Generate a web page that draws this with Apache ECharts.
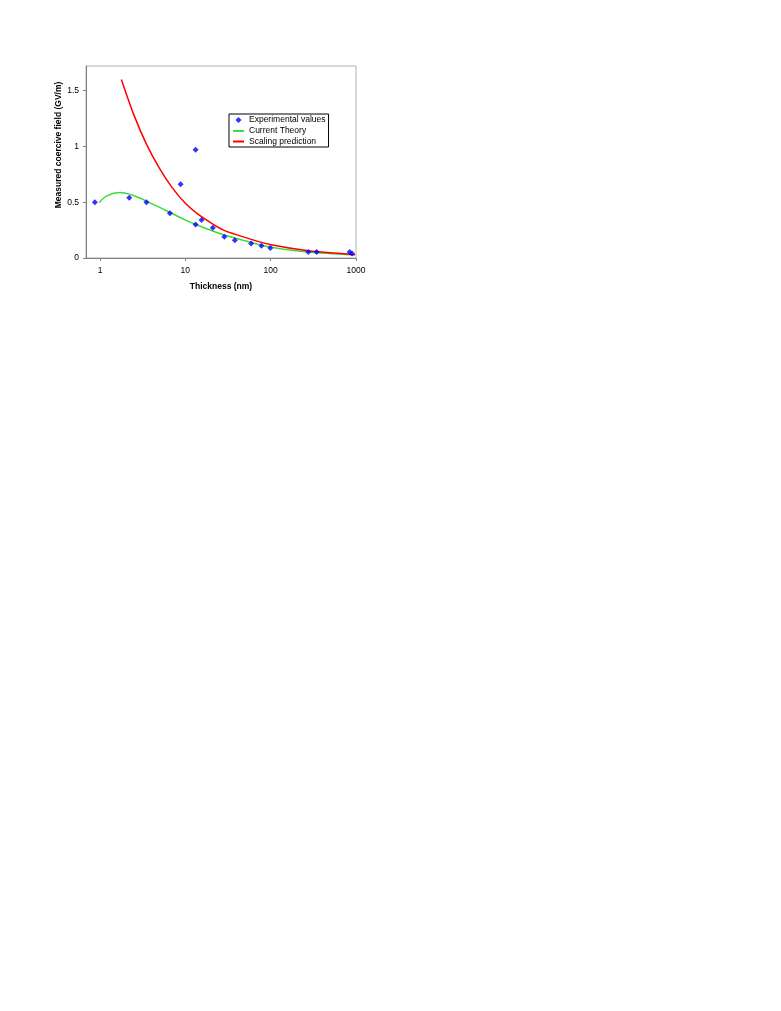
<!DOCTYPE html>
<html>
<head>
<meta charset="utf-8">
<script src="https://cdn.jsdelivr.net/npm/echarts@6/dist/echarts.min.js"></script>
<style>
  html, body { margin: 0; padding: 0; background: #fff; }
  #main { width: 781px; height: 1011px; }
</style>
</head>
<body>
<div id="main"></div>
<script>
// experimental points: [thickness nm, coercive field GV/m]
const experimental = [
  [0.87, 0.50], [2.2, 0.54], [3.5, 0.50], [6.6, 0.40], [8.8, 0.66],
  [13.2, 0.97], [13.2, 0.30], [15.5, 0.34], [21, 0.27], [28.6, 0.19],
  [38, 0.16], [59, 0.13], [78, 0.11], [99, 0.09], [276, 0.054],
  [346, 0.054], [843, 0.054], [898, 0.04]
];
// model curves
const currentTheory = [
  [0.98, 0.496], [1.2, 0.556], [1.72, 0.586], [2.46, 0.56], [3.5, 0.51],
  [5.78, 0.43], [9.91, 0.342], [14.2, 0.291], [27.9, 0.208],
  [52.4, 0.15], [98, 0.098], [276, 0.053], [930, 0.027]
];
const scalingPrediction = [
  [1.78, 1.60], [2.5, 1.28], [3.5, 1.02], [5, 0.80], [7, 0.63],
  [10, 0.49], [14.2, 0.39], [20.4, 0.31], [28, 0.25], [52, 0.18],
  [98, 0.12], [276, 0.065], [977, 0.03]
];
const yTicks = { min: 0, max: 1.72, interval: 0.5 };

const font = 'Liberation Sans, Arial, sans-serif';
const chart = echarts.init(document.getElementById('main'));

chart.setOption({
  animation: false,
  textStyle: { fontFamily: font },
  grid: {
    left: 86, top: 66, right: 425, bottom: 753,
    show: true, borderColor: '#b0b0b0', borderWidth: 1
  },
  legend: {
    orient: 'vertical',
    left: 229, top: 114,
    padding: [1, 3, 1, 3],
    itemGap: 1.5,
    itemWidth: 11,
    itemHeight: 10,
    borderColor: '#000', borderWidth: 1,
    backgroundColor: '#fff',
    textStyle: { fontSize: 8.5, color: '#000', fontFamily: font },
    data: [
      { name: 'Experimental values', icon: 'path://M0,0M11,10M5.5,2L8.5,5L5.5,8L2.5,5Z' },
      { name: 'Current Theory', itemStyle: { opacity: 0 } },
      { name: 'Scaling prediction', itemStyle: { opacity: 0 } }
    ]
  },
  xAxis: {
    type: 'log',
    logBase: 10,
    min: 0.685, max: 1000,
    name: 'Thickness (nm)',
    nameLocation: 'middle',
    nameGap: 24,
    nameTextStyle: { fontSize: 8.5, fontWeight: 'bold', color: '#000', fontFamily: font },
    axisLine: { lineStyle: { color: '#808080' } },
    axisTick: { show: true, length: 3, lineStyle: { color: '#808080' } },
    axisLabel: {
      fontSize: 8.5, color: '#000', margin: 8, showMinLabel: false,
      formatter: function (v) { return String(Math.round(v)); }
    },
    splitLine: { show: false }
  },
  yAxis: {
    type: 'value',
    min: yTicks.min, max: yTicks.max, interval: yTicks.interval,
    name: 'Measured coercive field (GV/m)',
    nameLocation: 'middle',
    nameGap: 22,
    nameTextStyle: { fontSize: 8.5, fontWeight: 'bold', color: '#000', fontFamily: font, padding: [0, 0, 0, 34] },
    axisLine: { show: true, lineStyle: { color: '#808080' } },
    axisTick: { show: true, length: 3, lineStyle: { color: '#808080' } },
    axisLabel: { fontSize: 8.5, color: '#000', margin: 7, showMaxLabel: false },
    splitLine: { show: false }
  },
  series: [
    {
      name: 'Experimental values',
      type: 'scatter',
      symbol: 'diamond',
      symbolSize: [6, 6],
      itemStyle: { color: '#0000ff' },
      data: experimental,
      z: 5
    },
    {
      name: 'Current Theory',
      type: 'line',
      symbol: 'none',
      smooth: 0.3,
      lineStyle: { color: '#3ddc3d', width: 1.5 },
      itemStyle: { color: '#3ddc3d' },
      data: currentTheory
    },
    {
      name: 'Scaling prediction',
      type: 'line',
      symbol: 'none',
      smooth: 0.3,
      lineStyle: { color: '#ff0000', width: 1.5 },
      itemStyle: { color: '#ff0000' },
      data: scalingPrediction
    }
  ]
});
</script>
</body>
</html>
